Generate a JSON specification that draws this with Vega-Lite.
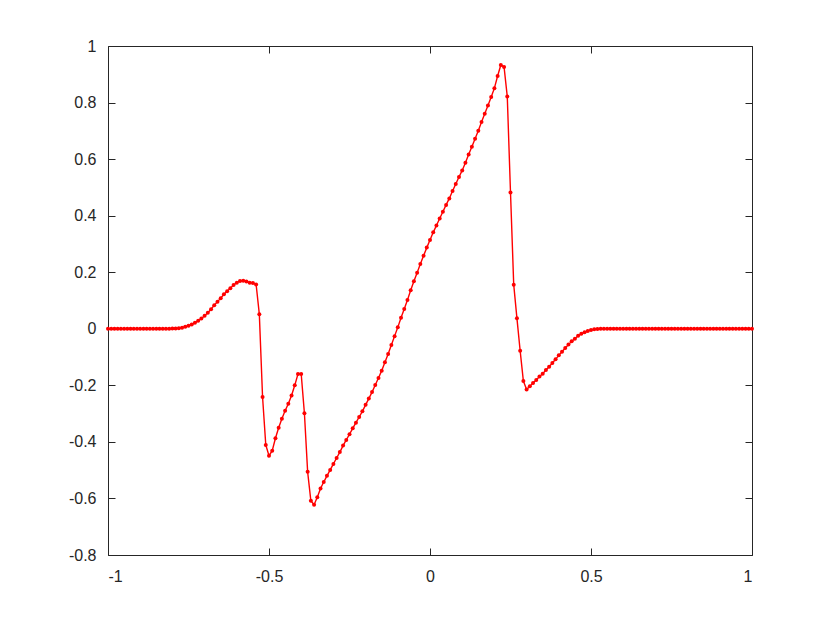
{
 "$schema": "https://vega.github.io/schema/vega-lite/v6.json",
 "width": 644, "height": 509,
 "autosize": "none",
 "padding": {"left": 108, "top": 46, "right": 78, "bottom": 68},
 "background": "white",
 "config": {
  "view": {"stroke": "#262626", "strokeWidth": 1},
  "axis": {"grid": false, "domain": false, "tickColor": "#262626", "tickSize": -7, "labelColor": "#262626", "labelFont": "Liberation Sans", "labelFontSize": 16, "title": null, "labelExpr": "'' + datum.value"}
 },
 "data": {"values": [
  {"x": -1.00, "y": 0}, {"x": -0.99, "y": 0}, {"x": -0.98, "y": 0}, {"x": -0.97, "y": 0}, {"x": -0.96, "y": 0},
  {"x": -0.95, "y": 0}, {"x": -0.94, "y": 0}, {"x": -0.93, "y": 0}, {"x": -0.92, "y": 0}, {"x": -0.91, "y": 0},
  {"x": -0.90, "y": 0}, {"x": -0.89, "y": 0}, {"x": -0.88, "y": 0}, {"x": -0.87, "y": 0}, {"x": -0.86, "y": 0},
  {"x": -0.85, "y": 0}, {"x": -0.84, "y": 0}, {"x": -0.83, "y": 0}, {"x": -0.82, "y": 0}, {"x": -0.81, "y": 0},
  {"x": -0.80, "y": 0.001}, {"x": -0.79, "y": 0.001}, {"x": -0.78, "y": 0.002}, {"x": -0.77, "y": 0.004}, {"x": -0.76, "y": 0.007},
  {"x": -0.75, "y": 0.011}, {"x": -0.74, "y": 0.015}, {"x": -0.73, "y": 0.021}, {"x": -0.72, "y": 0.028}, {"x": -0.71, "y": 0.036},
  {"x": -0.70, "y": 0.046}, {"x": -0.69, "y": 0.057}, {"x": -0.68, "y": 0.069}, {"x": -0.67, "y": 0.083}, {"x": -0.66, "y": 0.096},
  {"x": -0.65, "y": 0.108}, {"x": -0.64, "y": 0.122}, {"x": -0.63, "y": 0.133}, {"x": -0.62, "y": 0.143}, {"x": -0.61, "y": 0.155},
  {"x": -0.60, "y": 0.163}, {"x": -0.59, "y": 0.169}, {"x": -0.58, "y": 0.170}, {"x": -0.57, "y": 0.167}, {"x": -0.56, "y": 0.163},
  {"x": -0.55, "y": 0.162}, {"x": -0.54, "y": 0.157}, {"x": -0.53, "y": 0.051}, {"x": -0.52, "y": -0.241}, {"x": -0.51, "y": -0.411},
  {"x": -0.50, "y": -0.449}, {"x": -0.49, "y": -0.431}, {"x": -0.48, "y": -0.387}, {"x": -0.47, "y": -0.350}, {"x": -0.46, "y": -0.318},
  {"x": -0.45, "y": -0.290}, {"x": -0.44, "y": -0.265}, {"x": -0.43, "y": -0.236}, {"x": -0.42, "y": -0.200}, {"x": -0.41, "y": -0.160},
  {"x": -0.40, "y": -0.160}, {"x": -0.39, "y": -0.299}, {"x": -0.38, "y": -0.506}, {"x": -0.37, "y": -0.608}, {"x": -0.36, "y": -0.622},
  {"x": -0.35, "y": -0.596}, {"x": -0.34, "y": -0.565}, {"x": -0.33, "y": -0.542}, {"x": -0.32, "y": -0.520}, {"x": -0.31, "y": -0.499},
  {"x": -0.30, "y": -0.478}, {"x": -0.29, "y": -0.457}, {"x": -0.28, "y": -0.436}, {"x": -0.27, "y": -0.413}, {"x": -0.26, "y": -0.393},
  {"x": -0.25, "y": -0.373}, {"x": -0.24, "y": -0.352}, {"x": -0.23, "y": -0.332}, {"x": -0.22, "y": -0.312}, {"x": -0.21, "y": -0.292},
  {"x": -0.20, "y": -0.269}, {"x": -0.19, "y": -0.247}, {"x": -0.18, "y": -0.224}, {"x": -0.17, "y": -0.199}, {"x": -0.16, "y": -0.174},
  {"x": -0.15, "y": -0.148}, {"x": -0.14, "y": -0.118}, {"x": -0.13, "y": -0.089}, {"x": -0.12, "y": -0.057}, {"x": -0.11, "y": -0.026},
  {"x": -0.10, "y": 0.005}, {"x": -0.09, "y": 0.039}, {"x": -0.08, "y": 0.070}, {"x": -0.07, "y": 0.102}, {"x": -0.06, "y": 0.136},
  {"x": -0.05, "y": 0.168}, {"x": -0.04, "y": 0.198}, {"x": -0.03, "y": 0.229}, {"x": -0.02, "y": 0.258}, {"x": -0.01, "y": 0.287},
  {"x": 0.00, "y": 0.314}, {"x": 0.01, "y": 0.341}, {"x": 0.02, "y": 0.365}, {"x": 0.03, "y": 0.390}, {"x": 0.04, "y": 0.414},
  {"x": 0.05, "y": 0.438}, {"x": 0.06, "y": 0.461}, {"x": 0.07, "y": 0.487}, {"x": 0.08, "y": 0.512}, {"x": 0.09, "y": 0.537},
  {"x": 0.10, "y": 0.560}, {"x": 0.11, "y": 0.587}, {"x": 0.12, "y": 0.616}, {"x": 0.13, "y": 0.644}, {"x": 0.14, "y": 0.672},
  {"x": 0.15, "y": 0.700}, {"x": 0.16, "y": 0.731}, {"x": 0.17, "y": 0.760}, {"x": 0.18, "y": 0.790}, {"x": 0.19, "y": 0.820},
  {"x": 0.20, "y": 0.851}, {"x": 0.21, "y": 0.894}, {"x": 0.22, "y": 0.933}, {"x": 0.23, "y": 0.926}, {"x": 0.24, "y": 0.821},
  {"x": 0.25, "y": 0.482}, {"x": 0.26, "y": 0.156}, {"x": 0.27, "y": 0.037}, {"x": 0.28, "y": -0.078}, {"x": 0.29, "y": -0.185},
  {"x": 0.30, "y": -0.215}, {"x": 0.31, "y": -0.203}, {"x": 0.32, "y": -0.192}, {"x": 0.33, "y": -0.181}, {"x": 0.34, "y": -0.169},
  {"x": 0.35, "y": -0.159}, {"x": 0.36, "y": -0.146}, {"x": 0.37, "y": -0.134}, {"x": 0.38, "y": -0.121}, {"x": 0.39, "y": -0.108},
  {"x": 0.40, "y": -0.094}, {"x": 0.41, "y": -0.081}, {"x": 0.42, "y": -0.068}, {"x": 0.43, "y": -0.056}, {"x": 0.44, "y": -0.044},
  {"x": 0.45, "y": -0.035}, {"x": 0.46, "y": -0.025}, {"x": 0.47, "y": -0.018}, {"x": 0.48, "y": -0.012}, {"x": 0.49, "y": -0.008},
  {"x": 0.50, "y": -0.004}, {"x": 0.51, "y": -0.002}, {"x": 0.52, "y": -0.001}, {"x": 0.53, "y": 0}, {"x": 0.54, "y": 0},
  {"x": 0.55, "y": 0}, {"x": 0.56, "y": 0}, {"x": 0.57, "y": 0}, {"x": 0.58, "y": 0}, {"x": 0.59, "y": 0},
  {"x": 0.60, "y": 0}, {"x": 0.61, "y": 0}, {"x": 0.62, "y": 0}, {"x": 0.63, "y": 0}, {"x": 0.64, "y": 0},
  {"x": 0.65, "y": 0}, {"x": 0.66, "y": 0}, {"x": 0.67, "y": 0}, {"x": 0.68, "y": 0}, {"x": 0.69, "y": 0},
  {"x": 0.70, "y": 0}, {"x": 0.71, "y": 0}, {"x": 0.72, "y": 0}, {"x": 0.73, "y": 0}, {"x": 0.74, "y": 0},
  {"x": 0.75, "y": 0}, {"x": 0.76, "y": 0}, {"x": 0.77, "y": 0}, {"x": 0.78, "y": 0}, {"x": 0.79, "y": 0},
  {"x": 0.80, "y": 0}, {"x": 0.81, "y": 0}, {"x": 0.82, "y": 0}, {"x": 0.83, "y": 0}, {"x": 0.84, "y": 0},
  {"x": 0.85, "y": 0}, {"x": 0.86, "y": 0}, {"x": 0.87, "y": 0}, {"x": 0.88, "y": 0}, {"x": 0.89, "y": 0},
  {"x": 0.90, "y": 0}, {"x": 0.91, "y": 0}, {"x": 0.92, "y": 0}, {"x": 0.93, "y": 0}, {"x": 0.94, "y": 0},
  {"x": 0.95, "y": 0}, {"x": 0.96, "y": 0}, {"x": 0.97, "y": 0}, {"x": 0.98, "y": 0}, {"x": 0.99, "y": 0},
  {"x": 1.00, "y": 0}
 ]},
 "layer": [
  {
   "mark": {"type": "line", "color": "#ff0000", "strokeWidth": 1.4},
   "encoding": {
    "x": {"field": "x", "type": "quantitative", "scale": {"domain": [-1, 1], "nice": false}, "axis": {"orient": "top", "labels": false, "values": [-1, -0.5, 0, 0.5, 1]}},
    "y": {"field": "y", "type": "quantitative", "scale": {"domain": [-0.8, 1], "nice": false, "zero": false}, "axis": {"orient": "right", "labels": false, "values": [-0.8, -0.6, -0.4, -0.2, 0, 0.2, 0.4, 0.6, 0.8, 1]}}
   }
  },
  {
   "mark": {"type": "point", "filled": true, "color": "#ff0000", "size": 16, "opacity": 1},
   "encoding": {
    "x": {"field": "x", "type": "quantitative", "axis": {"orient": "bottom", "labelPadding": 20, "values": [-1, -0.5, 0, 0.5, 1]}},
    "y": {"field": "y", "type": "quantitative", "axis": {"orient": "left", "labelPadding": 19, "values": [-0.8, -0.6, -0.4, -0.2, 0, 0.2, 0.4, 0.6, 0.8, 1]}}
   }
  }
 ],
 "resolve": {"axis": {"x": "independent", "y": "independent"}}
}
